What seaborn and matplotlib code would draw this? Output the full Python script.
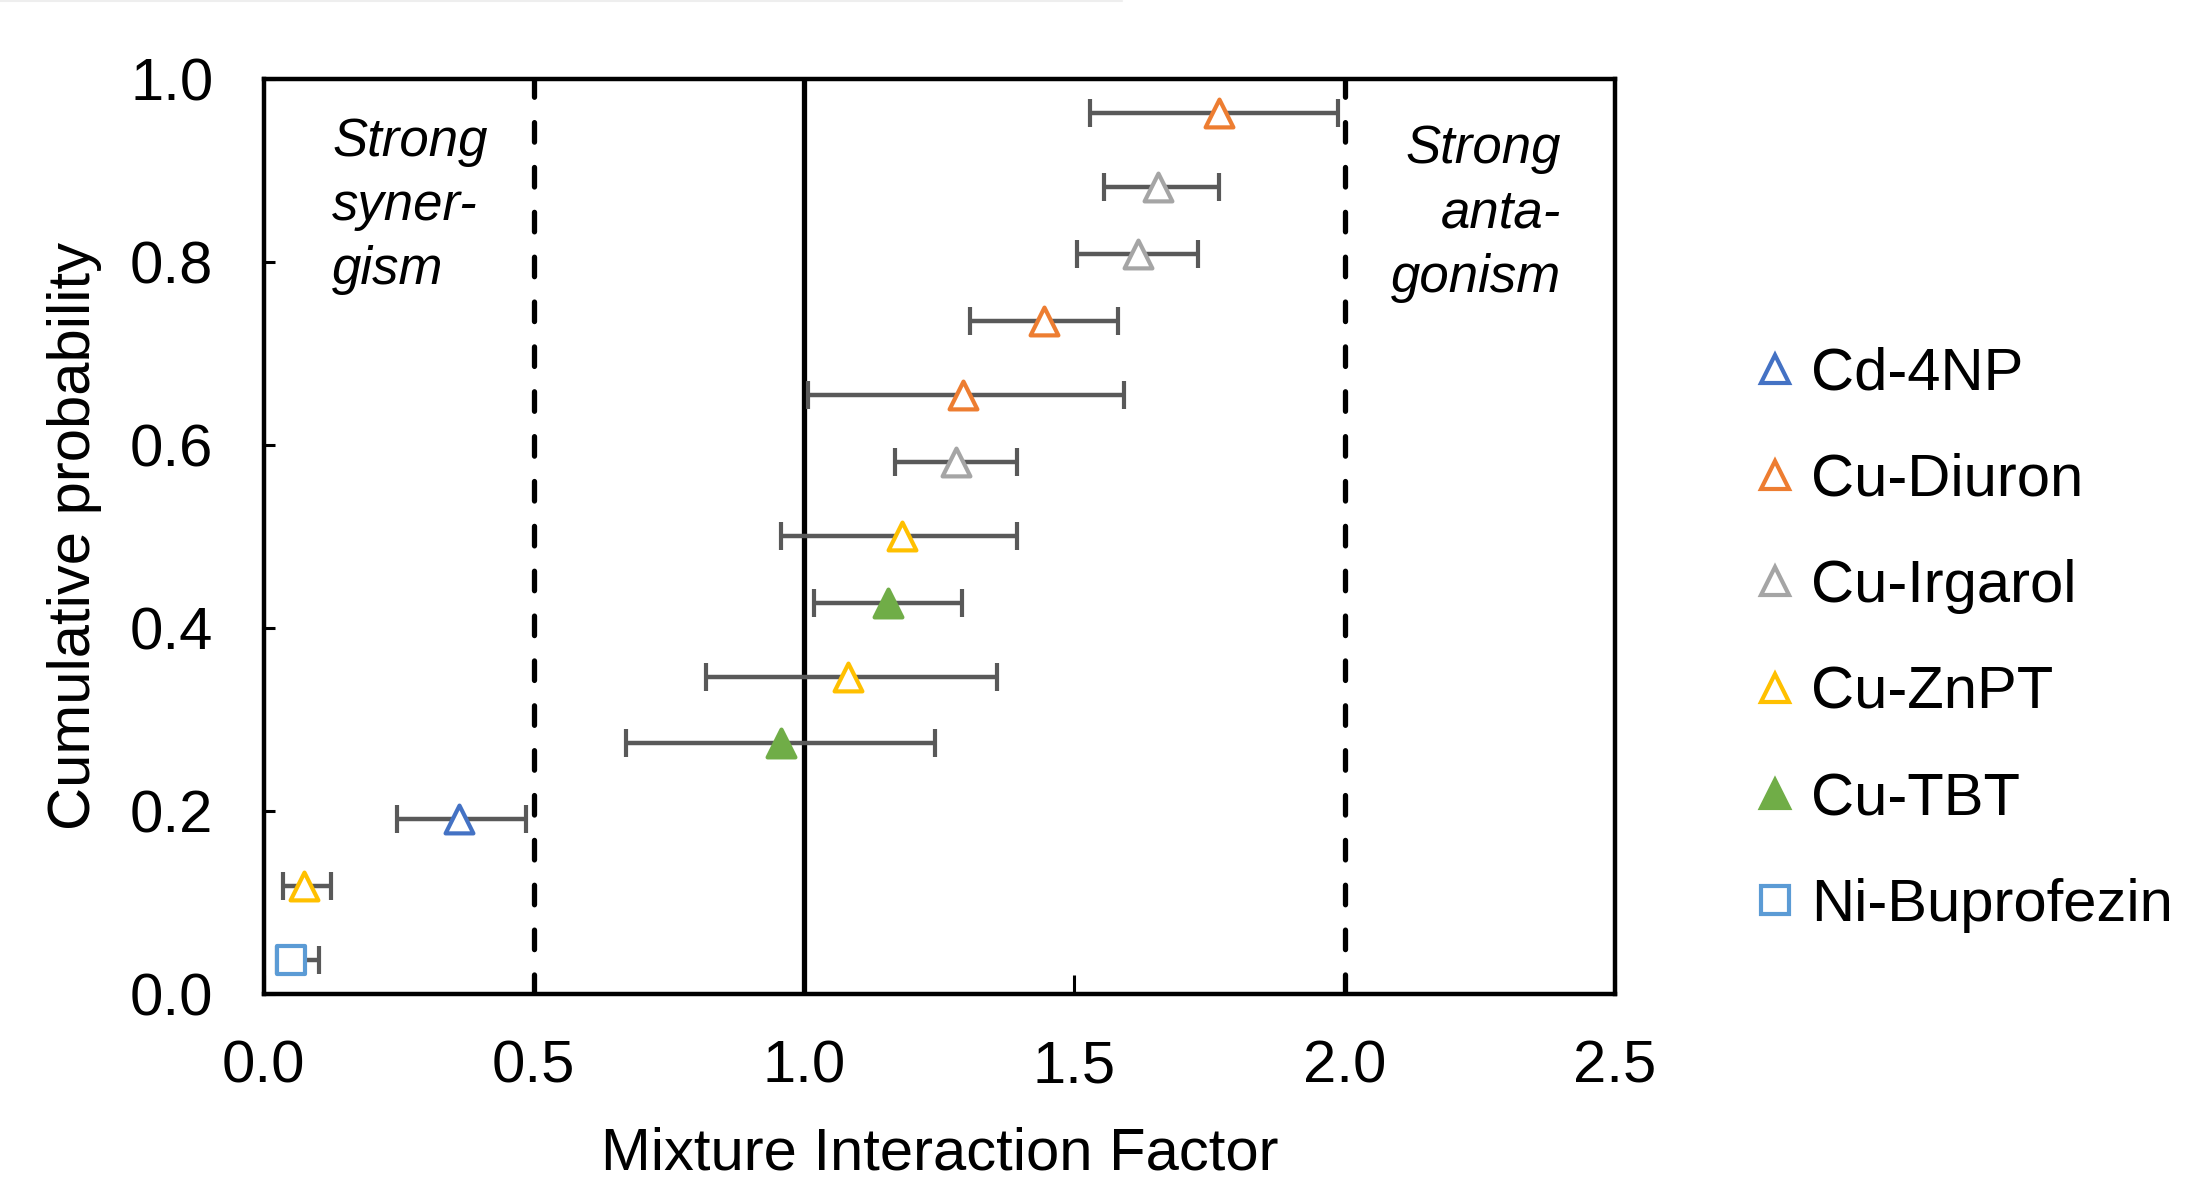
import numpy as np
import pandas as pd
import matplotlib
matplotlib.use("Agg")
import matplotlib.pyplot as plt
from matplotlib.lines import Line2D
import seaborn as sns

# ---- data ----
series = ["Ni-Buprofezin", "Cu-ZnPT", "Cd-4NP", "Cu-TBT", "Cu-ZnPT", "Cu-TBT",
          "Cu-ZnPT", "Cu-Irgarol", "Cu-Diuron", "Cu-Diuron", "Cu-Irgarol",
          "Cu-Irgarol", "Cu-Diuron"]
mif = [0.050, 0.075, 0.361, 0.957, 1.081, 1.156, 1.181, 1.281, 1.294, 1.443,
       1.617, 1.655, 1.767]
mif_low = [0.025, 0.036, 0.247, 0.670, 0.818, 1.018, 0.957, 1.169, 1.007, 1.306,
           1.504, 1.554, 1.529]
mif_high = [0.102, 0.124, 0.485, 1.243, 1.356, 1.293, 1.394, 1.394, 1.592, 1.580,
            1.729, 1.767, 1.988]
cum_prob = [0.037, 0.118, 0.191, 0.274, 0.346, 0.427, 0.501, 0.581, 0.655, 0.735,
            0.809, 0.882, 0.963]

legend_order = ["Cd-4NP", "Cu-Diuron", "Cu-Irgarol", "Cu-ZnPT", "Cu-TBT", "Ni-Buprofezin"]
colors = {"Cd-4NP": "#4472C4", "Cu-Diuron": "#ED7D31", "Cu-Irgarol": "#A5A5A5",
          "Cu-ZnPT": "#FFC000", "Cu-TBT": "#70AD47", "Ni-Buprofezin": "#5B9BD5"}
markers = {"Cd-4NP": "^", "Cu-Diuron": "^", "Cu-Irgarol": "^", "Cu-ZnPT": "^",
           "Cu-TBT": "^", "Ni-Buprofezin": "s"}
filled = {"Cu-TBT"}

x_ticks = [0.0, 0.5, 1.0, 1.5, 2.0, 2.5]
y_ticks = [0.0, 0.2, 0.4, 0.6, 0.8, 1.0]

df = pd.DataFrame({"series": series, "mif": mif, "low": mif_low,
                   "high": mif_high, "prob": cum_prob})

# ---- style ----
sns.set_theme(style="white")
plt.rcParams["font.family"] = ["Liberation Sans", "DejaVu Sans"]
plt.rcParams["text.color"] = "black"
plt.rcParams["axes.labelcolor"] = "black"

W, H = 2185, 1180
fig = plt.figure(figsize=(W / 100, H / 100), dpi=100)
ax = fig.add_axes([263.5 / W, 1 - 994 / H, (1615 - 263.5) / W, (994 - 79) / H])

# reference lines
ax.axvline(1.0, color="black", lw=3.8, zorder=1)
for xv in (0.5, 2.0):
    ax.axvline(xv, color="black", lw=3.8, linestyle=(0, (3.7, 4.8)),
               dash_capstyle="round", zorder=1)

# error bars
ax.errorbar(df["mif"], df["prob"],
            xerr=[df["mif"] - df["low"], df["high"] - df["mif"]],
            fmt="none", ecolor="#595959", elinewidth=3.2, capsize=10,
            capthick=3.0, zorder=2)

# markers
msize = 20
medge = 3.0
for name in legend_order:
    sub = df[df["series"] == name]
    col = colors[name]
    face = col if name in filled else "white"
    sns.scatterplot(data=sub, x="mif", y="prob", marker=markers[name],
                    s=msize ** 2, color=face, edgecolor=col, linewidth=medge,
                    ax=ax, zorder=4, legend=False)

# annotations
ax.text(0.127, 0.861, "Strong\nsyner-\ngism", style="italic", fontsize=38,
        ha="left", va="center", linespacing=1.36, color="black", zorder=5)
ax.text(2.401, 0.853, "Strong\nanta-\ngonism", style="italic", fontsize=38,
        ha="right", va="center", multialignment="right", linespacing=1.36,
        color="black", zorder=5)

ax.set_xlim(0, 2.5)
ax.set_ylim(0, 1.0)
ax.set_xticks(x_ticks)
ax.set_xticklabels([f"{v:.1f}" for v in x_ticks])
ax.set_yticks(y_ticks)
ax.set_yticklabels([f"{v:.1f}" for v in y_ticks])
ax.tick_params(axis="x", direction="in", length=14, width=2.2, labelsize=43,
               pad=33, colors="black", bottom=True)
ax.tick_params(axis="y", direction="in", length=8, width=2.2, labelsize=43,
               pad=36, colors="black", left=True)
for sp in ax.spines.values():
    sp.set_color("black")
    sp.set_linewidth(3.2)
ax.set_xlabel("Mixture Interaction Factor", fontsize=43, labelpad=23, color="black")
ax.set_ylabel("Cumulative probability", fontsize=43, labelpad=20, color="black")
ax.grid(False)

# legend
handles = []
for name in legend_order:
    col = colors[name]
    face = col if name in filled else "white"
    handles.append(Line2D([], [], linestyle="none", marker=markers[name],
                          markersize=msize, markerfacecolor=face,
                          markeredgecolor=col, markeredgewidth=medge))
leg = fig.legend(handles, legend_order, loc="center left",
                 bbox_to_anchor=(1751 / W, 1 - 640 / H), frameon=False,
                 fontsize=43, handlelength=0.8, handletextpad=0.2,
                 labelspacing=0.86, borderpad=0, borderaxespad=0)
for t in leg.get_texts():
    t.set_color("black")

# faint line at the very top edge of the reference image
fig.add_artist(Line2D([0, 1122 / W], [1 - 1 / H, 1 - 1 / H],
                      transform=fig.transFigure, color="#eeeeee", lw=1.5))

fig.savefig("out.png", dpi=100)
